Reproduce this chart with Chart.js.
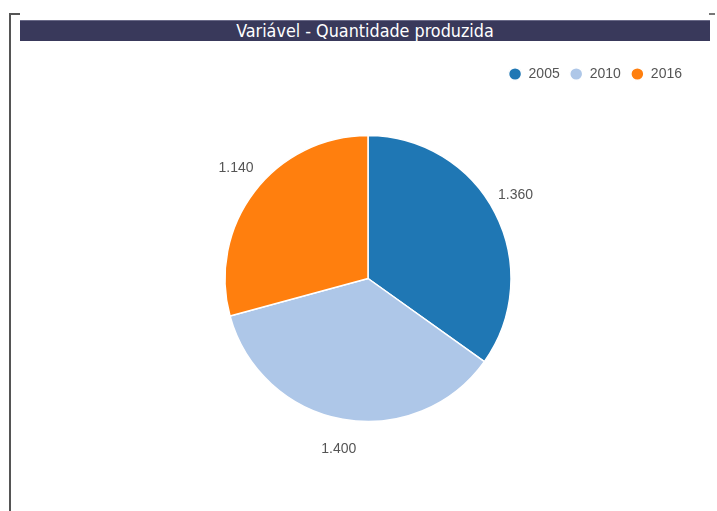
<!DOCTYPE html>
<html>
<head>
<meta charset="utf-8">
<script src="https://cdn.jsdelivr.net/npm/chart.js@4/dist/chart.umd.min.js"></script>
<style>
  html, body { margin: 0; padding: 0; background: #fff; }
  #wrap { position: relative; width: 717px; height: 511px; overflow: hidden; }
  #frameLeft { position: absolute; left: 9px; top: 13px; width: 2px; height: 498px; background: #555; }
  #frameTop { position: absolute; left: 9px; top: 13px; width: 11px; height: 2px; background: #555; }
  #frameRight { position: absolute; left: 709px; top: 13px; width: 6px; height: 2px; background: #777; }
  #titleBar {
    position: absolute; left: 20px; top: 20px; width: 690px; height: 21px;
    background: #39395b; border-top: 1px solid #6a6a88; box-sizing: border-box;
    color: #fff; text-align: center; line-height: 19px;
    font-family: "DejaVu Sans Condensed", "DejaVu Sans", sans-serif; font-size: 17.8px;
  }
  #chartBox { position: absolute; left: 0; top: 0; width: 717px; height: 511px; }
</style>
</head>
<body>
<div id="wrap">
  <div id="chartBox"><canvas id="myChart" width="717" height="511"></canvas></div>
  <div id="frameLeft"></div>
  <div id="frameTop"></div>
  <div id="frameRight"></div>
  <div id="titleBar">Variável - Quantidade produzida</div>
</div>
<script>
yearsList = ['2005', '2010', '2016']
amountList = [1360, 1400, 1140]
colorList = ['#1f77b4', '#aec7e8', '#ff7f0e']

// value labels outside each slice
const outLabels = {
  id: 'outLabels',
  afterDatasetsDraw(chart) {
    const ctx = chart.ctx;
    const meta = chart.getDatasetMeta(0);
    ctx.save();
    ctx.font = '14px "Liberation Sans", Arial, sans-serif';
    ctx.fillStyle = '#555';
    ctx.textAlign = 'center';
    ctx.textBaseline = 'middle';
    meta.data.forEach((arc, i) => {
      const p = arc.getProps(['x', 'y', 'startAngle', 'endAngle', 'outerRadius'], true);
      const mid = (p.startAngle + p.endAngle) / 2;
      const rx = p.outerRadius + 23;
      const ry = p.outerRadius + 33;
      const txt = chart.data.datasets[0].data[i].toLocaleString('pt-BR');
      ctx.fillText(txt, p.x + Math.cos(mid) * rx, p.y + Math.sin(mid) * ry - 3);
    });
    ctx.restore();
  }
};

const ctx = document.getElementById('myChart');
new Chart(ctx, {
  type: 'pie',
  data: {
    labels: yearsList,
    datasets: [{
      data: amountList,
      backgroundColor: colorList,
      borderColor: '#fff',
      borderWidth: 1.5,
      radius: 143
    }]
  },
  options: {
    responsive: false,
    animation: false,
    layout: { padding: { left: 44, right: 25, top: 57, bottom: 45 } },
    plugins: {
      tooltip: { enabled: false },
      legend: {
        position: 'top',
        align: 'end',
        labels: {
          usePointStyle: true,
          pointStyle: 'circle',
          boxHeight: 9,
          pointStyleWidth: 13,
          padding: 10,
          color: '#555',
          font: { family: '"Liberation Sans", Arial, sans-serif', size: 14 }
        }
      }
    }
  },
  plugins: [outLabels]
});
</script>
</body>
</html>
